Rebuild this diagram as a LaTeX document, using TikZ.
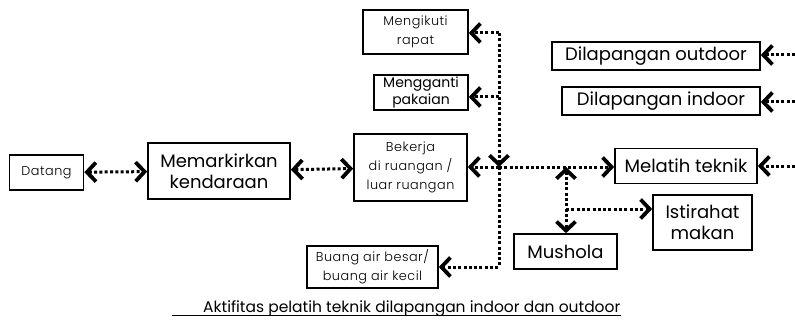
\documentclass[tikz,border=0pt]{standalone}
\usepackage{fontspec}
\setmainfont{Poppins}
\IfFontExistsTF{Poppins Light}
  {\newfontfamily\thinfont{Poppins Light}[LetterSpace=4]}
  {\newfontfamily\thinfont{Poppins}[LetterSpace=4]}
\usetikzlibrary{arrows.meta}
\begin{document}
\begin{tikzpicture}[x=1pt,y=-1pt,
  box/.style={draw,line width=1.6pt,inner sep=0pt,align=center},
  big/.style={font=\fontsize{18}{21}\selectfont},
  small/.style={font=\thinfont\fontsize{12.8}{19}\selectfont},
  tip/.tip={Straight Barb[length=9pt,width=19pt,line width=3.8pt]},
  conn/.style={line width=3pt,dash pattern=on 3pt off 2.3pt,arrows={-tip}},
  both/.style={arrows={tip-tip}}]
\useasboundingbox (0,0) rectangle (795,334);

% left chain
\node[box,small,minimum width=74pt,minimum height=35pt] (datang) at (46.5,172.5) {Datang};
\node[box,big,minimum width=142pt,minimum height=56pt] (parkir) at (219,171) {Memarkirkan\\kendaraan};
\node[box,small,minimum width=113pt,minimum height=67pt] (bekerja) at (410.5,167.5) {Bekerja\\di ruangan /\\luar ruangan};

% side activities
\node[box,small,minimum width=105pt,minimum height=44pt] (rapat) at (415.5,32) {Mengikuti\\rapat};
\node[box,font=\fontsize{14}{17}\selectfont,minimum width=94pt,minimum height=35pt] (ganti) at (421,92.5) {Mengganti\\pakaian};
\node[box,small,minimum width=131pt,minimum height=42pt] (buang) at (372.5,267) {Buang air besar/\\buang air kecil};

% right side
\node[box,big,minimum width=208pt,minimum height=28pt] (outdoor) at (656,56) {Dilapangan outdoor};
\node[box,big,minimum width=198pt,minimum height=28pt] (indoor) at (661,101) {Dilapangan indoor};
\node[box,big,minimum width=142pt,minimum height=35pt] (melatih) at (686,166) {Melatih teknik};
\node[box,big,minimum width=103pt,minimum height=35pt] (mushola) at (565.5,251.5) {Mushola};
\node[box,big,minimum width=99pt,minimum height=55pt] (istirahat) at (702.5,222.5) {Istirahat\\makan};

% junction points and free ends
\coordinate (top) at (499,33);
\coordinate (mid) at (499,97);
\coordinate (ja) at (499,167);
\coordinate (bot) at (499,267);
\coordinate (jb) at (566,167);
\coordinate (br) at (566,209);
\coordinate (e1) at (795,55);
\coordinate (e2) at (795,102);
\coordinate (e3) at (795,166);

% connectors
\draw[conn,both] (datang) -- (parkir);
\draw[conn,both] (parkir) -- (bekerja);
\draw[conn] (top) -- (ja);
\draw[conn] (top) -- (rapat.east |- top);
\draw[conn] (mid) -- (ganti.east |- mid);
\draw[conn] (ja) -- (bekerja.east |- ja);
\draw[conn] (ja) -- (bot) -- (buang.east |- bot);
\draw[conn] (ja) -- (melatih.west |- ja);
\draw[conn,both] (jb) -- (mushola.north -| jb);
\draw[conn] (br) -- (istirahat.west |- br);
\draw[conn] (e1) -- (outdoor.east |- e1);
\draw[conn] (e2) -- (indoor.east |- e2);
\draw[conn] (e3) -- (melatih.east |- e3);

% caption
\node[font=\fontsize{15.5}{18}\selectfont,anchor=base west,inner sep=0pt] (title) at (203,312) {Aktifitas pelatih teknik dilapangan indoor dan outdoor};
\coordinate (ul) at (172,315);
\draw[line width=1pt] (ul) -- (ul -| title.east);
\end{tikzpicture}
\end{document}
